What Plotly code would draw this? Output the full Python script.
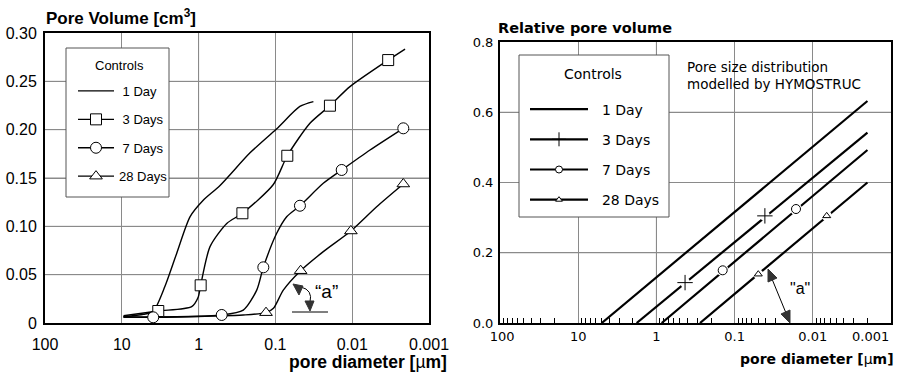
import math
import plotly.graph_objects as go

W, H = 897, 376

# ---------------- data: left panel (measured, pore diameter [µm] vs pore volume [cm3]) ----------------
series_names = ["1 Day", "3 Days", "7 Days", "28 Days"]

l_day1_d = [9.5, 5.2, 3.9, 2.74, 1.93, 1.29, 0.87, 0.53, 0.214, 0.096, 0.048, 0.032]
l_day1_v = [0.0065, 0.009, 0.012, 0.038, 0.072, 0.110, 0.127, 0.142, 0.176, 0.201, 0.224, 0.229]

l_day3_d = [9.5, 3.35, 1.23, 1.01, 0.94, 0.71, 0.43, 0.269, 0.107, 0.07, 0.0355, 0.0195, 0.0107, 0.0034, 0.00205]
l_day3_v = [0.0075, 0.0124, 0.017, 0.027, 0.039, 0.079, 0.103, 0.1135, 0.143, 0.173, 0.2066, 0.2248, 0.2445, 0.272, 0.2834]
l_day3_mk_d = [3.35, 0.94, 0.269, 0.07, 0.0195, 0.0034]
l_day3_mk_v = [0.0124, 0.039, 0.1135, 0.173, 0.2248, 0.272]

l_day7_d = [9.5, 3.9, 0.5, 0.262, 0.175, 0.1436, 0.0962, 0.0713, 0.0479, 0.0238, 0.0137, 0.00586, 0.00216]
l_day7_v = [0.0065, 0.0059, 0.0083, 0.0134, 0.034, 0.0576, 0.0928, 0.110, 0.1213, 0.1445, 0.1583, 0.179, 0.2014]
l_day7_mk_d = [3.9, 0.5, 0.1436, 0.0479, 0.0137, 0.00216]
l_day7_mk_v = [0.0059, 0.0083, 0.0576, 0.1213, 0.1583, 0.2014]

l_day28_d = [9.5, 1.93, 0.262, 0.1325, 0.106, 0.0789, 0.0469, 0.0238, 0.0104, 0.0048, 0.00216]
l_day28_v = [0.006, 0.0065, 0.0083, 0.0107, 0.0152, 0.034, 0.0541, 0.0738, 0.0952, 0.1203, 0.1438]
l_day28_mk_d = [0.1325, 0.0469, 0.0104, 0.00216]
l_day28_mk_v = [0.0107, 0.0541, 0.0952, 0.1438]

left_x_ticks = [100, 10, 1, 0.1, 0.01, 0.001]
left_x_text = ["100", "10", "1", "0.1", "0.01", "0.001"]
left_y_ticks = [0, 0.05, 0.10, 0.15, 0.20, 0.25, 0.30]
left_y_text = ["0", "0.05", "0.10", "0.15", "0.20", "0.25", "0.30"]

# ---------------- data: right panel (HYMOSTRUC model, relative pore volume) ----------------
r_day1_d = [5.0, 0.002]
r_day1_v = [0.0, 0.632]
r_day3_d = [1.79, 0.002]
r_day3_v = [0.0, 0.542]
r_day7_d = [0.857, 0.002]
r_day7_v = [0.0, 0.4925]
r_day28_d = [0.277, 0.002]
r_day28_v = [0.0, 0.400]

r_day3_mk_d = [0.43, 0.041]
r_day3_mk_v = [0.115, 0.305]
r_day7_mk_d = [0.142, 0.0164]
r_day7_mk_v = [0.150, 0.3245]
r_day28_mk_d = [0.0498, 0.00664]
r_day28_mk_v = [0.139, 0.305]

right_x_ticks = [100, 10, 1, 0.1, 0.01, 0.001]
right_x_text = ["\u00a0100", "10", "1", "0.1", "0.01", ""]   # "0.001" is set inside the frame below
right_y_ticks = [0, 0.2, 0.4, 0.6, 0.8]

# ---------------- styling ----------------
SANS = "Liberation Sans, Arial, sans-serif"
WIDE = "DejaVu Sans, Verdana, sans-serif"
GRID = "#8a8a8a"
INK = "black"
CLEAR = "rgba(0,0,0,0)"


def P(px, py):
    return px / W, 1 - py / H


fig = go.Figure()

# ---- left panel curves
left_lines = [(l_day1_d, l_day1_v), (l_day3_d, l_day3_v), (l_day7_d, l_day7_v), (l_day28_d, l_day28_v)]
for d, v in left_lines:
    fig.add_trace(go.Scatter(x=d, y=v, mode="lines", xaxis="x", yaxis="y", showlegend=False,
                             line=dict(color=INK, width=1.4, shape="spline", smoothing=0.7),
                             hoverinfo="skip"))

left_markers = [(l_day3_mk_d, l_day3_mk_v, "square"),
                (l_day7_mk_d, l_day7_mk_v, "circle"),
                (l_day28_mk_d, l_day28_mk_v, "triangle-up")]
for d, v, sym in left_markers:
    fig.add_trace(go.Scatter(x=d, y=v, mode="markers", xaxis="x", yaxis="y", showlegend=False,
                             marker=dict(symbol=sym, size=11, color="white",
                                         line=dict(color=INK, width=1))))

# ---- left legend entries (labels roughly right-aligned as in the original)
left_leg_sym = [None, "square", "circle", "triangle-up"]
left_leg_pad = ["\u00a0", "\u00a0", "\u00a0", ""]
for i, (name, sym) in enumerate(zip(series_names, left_leg_sym)):
    fig.add_trace(go.Scatter(x=[None], y=[None], xaxis="x", yaxis="y", name=left_leg_pad[i] + name,
                             mode="lines" if sym is None else "lines+markers",
                             legend="legend", legendgroup="L%d" % i,
                             line=dict(color=INK, width=1.3),
                             marker=dict(symbol=sym or "circle", size=11, color="white",
                                         line=dict(color=INK, width=1))))

# ---- right panel model lines
right_lines = [(r_day1_d, r_day1_v), (r_day3_d, r_day3_v), (r_day7_d, r_day7_v), (r_day28_d, r_day28_v)]
for d, v in right_lines:
    fig.add_trace(go.Scatter(x=d, y=v, mode="lines", xaxis="x2", yaxis="y2", showlegend=False,
                             line=dict(color=INK, width=2.2), hoverinfo="skip"))

# white knock-outs behind the markers (line breaks around symbols)
right_markers = [(r_day3_mk_d, r_day3_mk_v, "cross-thin", 11, 10),
                 (r_day7_mk_d, r_day7_mk_v, "circle", 9, 12),
                 (r_day28_mk_d, r_day28_mk_v, "triangle-up", 7, 10)]
for d, v, sym, size, ko in right_markers:
    fig.add_trace(go.Scatter(x=d, y=v, mode="markers", xaxis="x2", yaxis="y2", showlegend=False,
                             marker=dict(symbol="circle", size=ko, color="white", line=dict(width=0)),
                             hoverinfo="skip"))
for d, v, sym, size, ko in right_markers:
    fig.add_trace(go.Scatter(x=d, y=v, mode="markers", xaxis="x2", yaxis="y2", showlegend=False,
                             marker=dict(symbol=sym, size=size, color="white",
                                         line=dict(color=INK, width=1))))

right_leg_sym = [(None, 0), ("cross-thin", 10), ("circle", 7), ("triangle-up", 6)]
for i, (name, (sym, sz)) in enumerate(zip(series_names, right_leg_sym)):
    fig.add_trace(go.Scatter(x=[None], y=[None], xaxis="x2", yaxis="y2", name="\u00a0\u00a0" + name,
                             mode="lines" if sym is None else "lines+markers",
                             legend="legend2", legendgroup="R%d" % i,
                             line=dict(color=INK, width=2.2),
                             marker=dict(symbol=sym or "circle", size=sz or 6, color="white",
                                         line=dict(color=INK, width=1))))

# ---------------- axes ----------------
axis_common = dict(showline=True, mirror=True, linecolor=INK, linewidth=2, automargin=False,
                   showgrid=True, gridcolor=GRID, gridwidth=1, zeroline=False)

fig.update_layout(
    width=W, height=H,
    margin=dict(l=0, r=0, t=0, b=0, autoexpand=False),
    paper_bgcolor="white", plot_bgcolor="white",
    xaxis=dict(axis_common, type="log", range=[2, -3], domain=[45 / W, 429 / W],
               tickvals=left_x_ticks, ticktext=left_x_text, anchor="y",
               ticks="outside", ticklen=6, tickcolor=CLEAR,
               tickfont=dict(family=SANS, size=16, color=INK)),
    yaxis=dict(axis_common, range=[0, 0.30], domain=[1 - 323 / H, 1 - 33 / H],
               tickvals=left_y_ticks, ticktext=left_y_text, anchor="x",
               ticks="outside", ticklen=3, tickcolor=CLEAR,
               tickfont=dict(family=SANS, size=16, color=INK)),
    xaxis2=dict(axis_common, type="log", range=[2, -3], domain=[500 / W, 891 / W],
                tickvals=right_x_ticks, ticktext=right_x_text, anchor="y2",
                ticks="", tickfont=dict(family=WIDE, size=13, color=INK),
                minor=dict(ticks="inside", ticklen=5, tickwidth=1, tickcolor=INK, showgrid=False,
                           tickvals=[m * 10 ** e for e in range(-3, 2) for m in range(2, 10)])),
    yaxis2=dict(axis_common, range=[0, 0.8], domain=[1 - 323 / H, 1 - 42 / H],
                tickvals=right_y_ticks, tickformat=".1f", anchor="x2",
                ticks="outside", ticklen=2, tickcolor=CLEAR,
                tickfont=dict(family=WIDE, size=13, color=INK)),
    legend=dict(x=73 / W, y=1 - 76 / H, xanchor="left", yanchor="top",
                bgcolor=CLEAR, borderwidth=0,
                font=dict(family=SANS, size=13, color=INK),
                tracegroupgap=8.5, itemwidth=36, traceorder="grouped"),
    legend2=dict(x=525 / W, y=1 - 93.5 / H, xanchor="left", yanchor="top",
                 bgcolor=CLEAR, borderwidth=0,
                 font=dict(family=WIDE, size=14, color=INK),
                 tracegroupgap=9, itemwidth=58, traceorder="grouped"),
)

# ---------------- texts ----------------
ann = []


def note(text, px, py, family, size, xanchor="left"):
    x, y = P(px, py)
    ann.append(dict(text=text, x=x, y=y, xanchor=xanchor, yanchor="middle", showarrow=False,
                    xref="paper", yref="paper", font=dict(family=family, size=size, color=INK)))


note("<b>Pore Volume [cm<sup>3</sup>]</b>", 44, 17, SANS, 17)
note("<b>pore diameter [</b>µ<b>m]</b>", 449, 362, SANS, 17.5, "right")
note("<b>Relative pore volume</b>", 496, 28, WIDE, 14.5)
note("<b>pore diameter [</b>µ<b>m]</b>", 896, 359, WIDE, 14, "right")
note("Pore size distribution", 685, 67, WIDE, 13.5)
note("modelled by HYMOSTRUC", 685, 84, WIDE, 13.5)
note("Controls", 119.5, 65, SANS, 13, "center")
note("Controls", 593, 74, WIDE, 14, "center")
note("\u201ca\u201d", 326, 291, SANS, 19, "center")
note("\"a\"", 800, 288, SANS, 16, "center")
note("0.001", 870, 336, WIDE, 13, "center")
fig.update_layout(annotations=ann)


# ---------------- grid, legend frames and "a" arrows ----------------
def path(pts, close=False):
    s = "M " + " L ".join("%.5f,%.5f" % P(px, py) for px, py in pts)
    return s + (" Z" if close else "")


shapes = []
# grid lines at the inner tick values of each axis
for xa, ya, xt, yt in [("x", "y", left_x_ticks, left_y_ticks), ("x2", "y2", right_x_ticks, right_y_ticks)]:
    for t in xt[1:-1]:
        shapes.append(dict(type="line", xref=xa, yref=ya + " domain", x0=math.log10(t), x1=math.log10(t),
                           y0=0, y1=1, line=dict(color=GRID, width=1), layer="below"))
    for t in yt[1:-1]:
        shapes.append(dict(type="line", xref=xa + " domain", yref=ya, x0=0, x1=1, y0=t, y1=t,
                           line=dict(color=GRID, width=1), layer="below"))

x0, y0 = P(301, 287)
xc, yc = P(313, 290)
x1, y1 = P(310, 302)
deco = [
    # legend frames (opaque, above the data like in the original)
    dict(type="path", path=path([(66, 48), (169, 48), (169, 197), (66, 197)], True),
         fillcolor="white", line=dict(color="#555", width=1), layer="above"),
    dict(type="path", path=path([(519, 55), (669, 55), (669, 217), (519, 217)], True),
         fillcolor="white", line=dict(color="#555", width=1), layer="above"),
    # left curved arrow
    dict(type="path", path="M %.5f,%.5f Q %.5f,%.5f %.5f,%.5f" % (x0, y0, xc, yc, x1, y1),
         line=dict(color=INK, width=1)),
    dict(type="path", path=path([(293, 284), (303, 286), (299, 295)], True),
         fillcolor="#333", line=dict(color="#333", width=1)),
    dict(type="path", path=path([(305, 301), (314, 301), (310, 311)], True),
         fillcolor="#333", line=dict(color="#333", width=1)),
    dict(type="path", path=path([(292, 312), (328, 312)]), line=dict(color=INK, width=1)),
    # right double-headed arrow
    dict(type="path", path=path([(772, 279), (786, 313)]), line=dict(color=INK, width=1)),
    dict(type="path", path=path([(768, 269), (777, 278), (768, 282)], True),
         fillcolor="#333", line=dict(color="#333", width=1)),
    dict(type="path", path=path([(790, 323), (790, 310), (781, 314)], True),
         fillcolor="#333", line=dict(color="#333", width=1)),
]
for s in deco:
    s["xref"] = "paper"
    s["yref"] = "paper"
fig.update_layout(shapes=shapes + deco)

# the page's default 8px body margin would shift the 897x376 figure; remove it
fig.write_html("out.html", config={"displayModeBar": False},
               post_script="document.body.style.margin='0';")
